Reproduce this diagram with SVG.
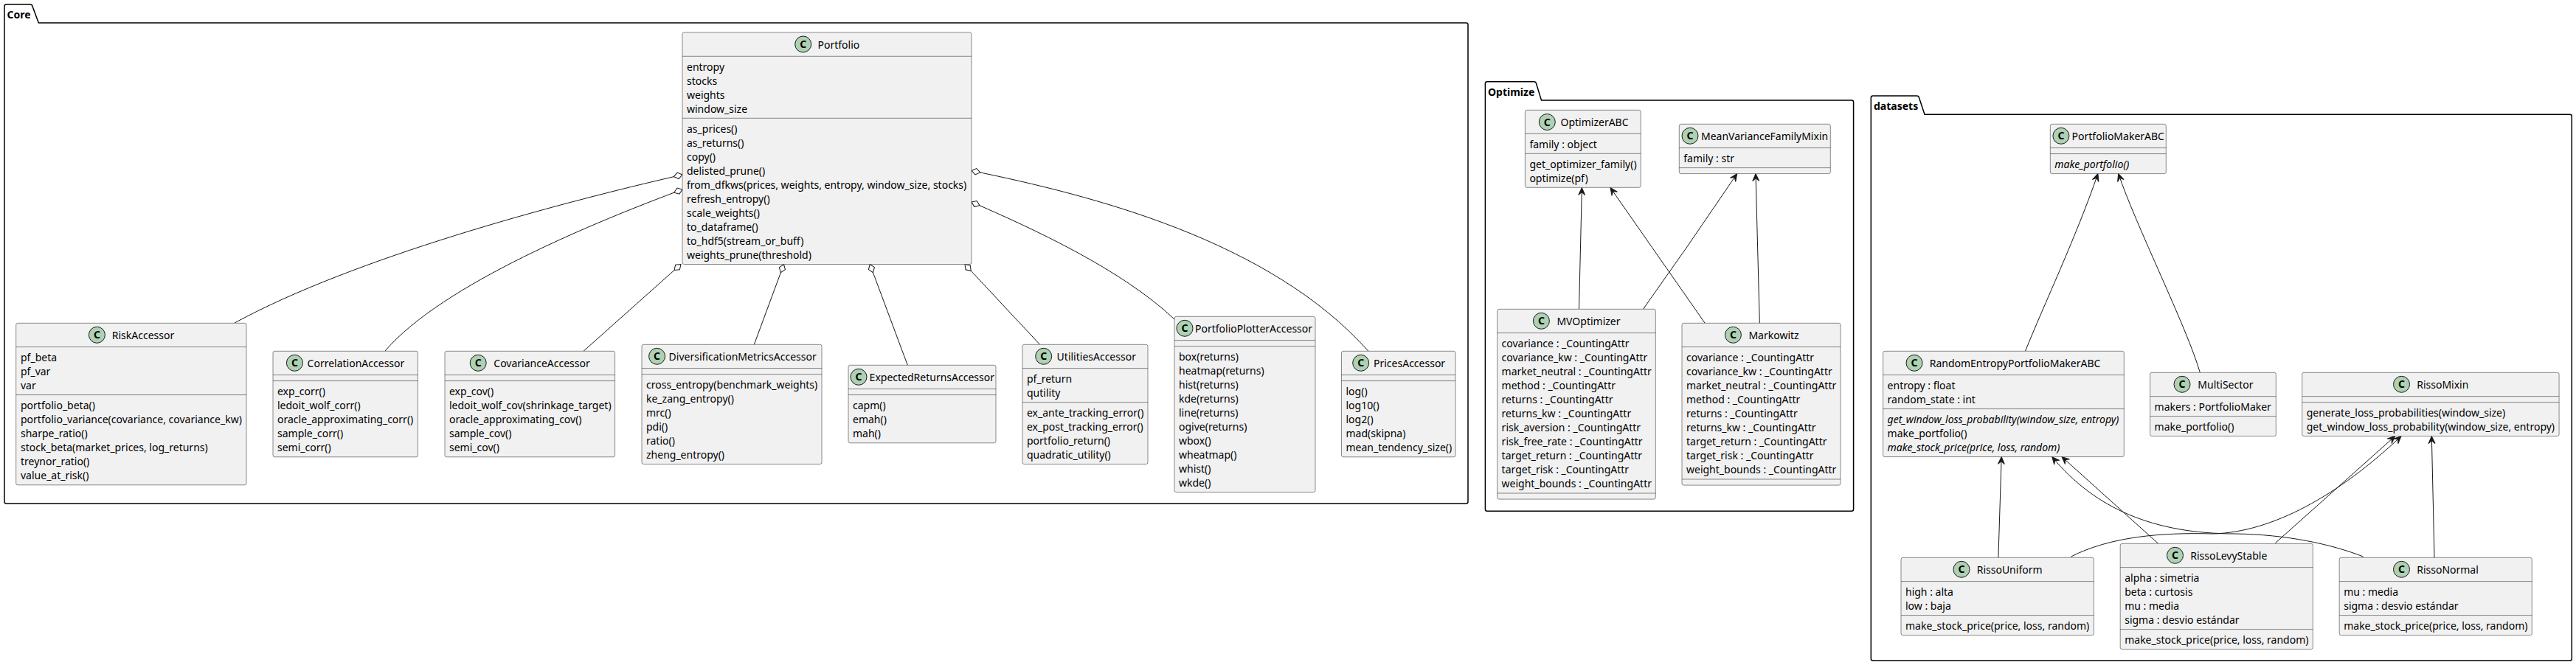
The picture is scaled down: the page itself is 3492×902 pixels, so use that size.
<svg xmlns="http://www.w3.org/2000/svg" width="3492" height="902" viewBox="0 0 3492 902">
<style>
text{font-family:"Noto Sans","DejaVu Sans",sans-serif;font-size:14px;fill:#000}
.pk{fill:none;stroke:#000;stroke-width:1.5}
.pl{font-weight:700}
.b{fill:#F1F1F1;stroke:#181818;stroke-width:.5}
.s{fill:none;stroke:#181818;stroke-width:.5}
.c{fill:#ADD1B2;stroke:#181818;stroke-width:1}
.g{text-anchor:middle;font-weight:700}
.i{font-style:italic}
.e{fill:none;stroke:#181818;stroke-width:1}
.ag{marker-start:url(#dia)}
.ex{marker-end:url(#arr)}
</style>
<defs>
<marker id="dia" markerUnits="userSpaceOnUse" markerWidth="15" markerHeight="11" refX="1" refY="5.5" orient="auto" viewBox="0 0 15 11"><path d="M1,5.5 L7,1.2 L13,5.5 L7,9.8 Z" fill="#fff" stroke="#181818" stroke-width="1"/></marker>
<marker id="arr" markerUnits="userSpaceOnUse" markerWidth="12" markerHeight="12" refX="11" refY="6" orient="auto" viewBox="0 0 12 12"><path d="M11,6 L1,1.5 L5,6 L1,10.5 Z" fill="#181818" stroke="#181818" stroke-width="1"/></marker>
</defs>
<rect width="3492" height="902" fill="#fff"/>
<g id="pkg-core"><path class="pk" d="M6,31 V8.5 Q6,6 8.5,6 H41 Q43.5,6 44,8.5 L52.3,31 H1987.5 Q1990,31 1990,33.5 V680.5 Q1990,683 1987.5,683 H8.5 Q6,683 6,680.5 Z"/><text class="pl" x="9.6" y="24.5">Core</text></g>
<g id="pkg-optimize"><path class="pk" d="M2013.4,136 V113.2 Q2013.4,110.7 2015.9,110.7 H2079.5 Q2082,110.7 2082.5,113.2 L2089.5,136 H2510 Q2512.6,136 2512.6,138.5 V690.8 Q2512.6,693.3 2510,693.3 H2015.9 Q2013.4,693.3 2013.4,690.8 Z"/><text class="pl" x="2017" y="129.5">Optimize</text></g>
<g id="pkg-datasets"><path class="pk" d="M2536.3,155.3 V132.5 Q2536.3,130 2538.8,130 H2598.5 Q2601,130 2601.5,132.5 L2609,155.3 H3483.8 Q3486.3,155.3 3486.3,157.8 V893.5 Q3486.3,896 3483.8,896 H2538.8 Q2536.3,896 2536.3,893.5 Z"/><text class="pl" x="2540" y="149">datasets</text></g>
<g id="connectors">
<path class="e ag" d="M925,237 C750,277 480,350 318,438"/>
<path class="e ag" d="M925,257 C810,300 600,385 522,476"/>
<path class="e ag" d="M923,358.5 L791,476.3"/>
<path class="e ag" d="M1062.5,358.5 L1022.3,467.3"/>
<path class="e ag" d="M1179.3,358.5 L1230.3,495.3"/>
<path class="e ag" d="M1308,358.5 L1409.6,467.3"/>
<path class="e ag" d="M1317,274 C1400,310 1520,365 1592,433"/>
<path class="e ag" d="M1317,231.5 C1480,265 1720,325 1855,476.3"/>
<path class="e ex" d="M2140.5,419.3 L2144.4,254.6"/>
<path class="e ex" d="M2311.2,438.3 L2183,254.6"/>
<path class="e ex" d="M2227.5,419.3 L2286.8,335 L2354.7,235.6"/>
<path class="e ex" d="M2385.3,438.3 L2380,235.6"/>
<path class="e ex" d="M2745.5,476.3 C2770,415 2815,320 2843.9,235.6"/>
<path class="e ex" d="M2982.3,505.3 C2965,445 2895,305 2871.7,235.6"/>
<path class="e ex" d="M2708.9,756.3 L2713.2,619.6"/>
<path class="e ex" d="M2925.7,737.3 L2795,619.6"/>
<path class="e ex" d="M3203.5,755 C3160,738 3100,725 3030,724 C2920,724 2840,690 2781.8,619.6"/>
<path class="e ex" d="M2807.6,755 C2860,728 2930,722 3000,724 C3080,722 3170,672 3255,591.6"/>
<path class="e ex" d="M3084.3,736.7 L3246.7,591.6"/>
<path class="e ex" d="M3300,756.3 L3296.3,591.6"/>
</g>
<g id="Portfolio"><rect class="b" x="925" y="44" width="392" height="314.5" rx="2.5"/><path class="s" d="M925,76.3 H1317 M925,160.3 H1317"/><circle class="c" cx="1088.7" cy="60" r="11"/><text class="g" x="1088.7" y="65">C</text><text x="1108.5" y="65.8">Portfolio</text>
<text x="931" y="95.8">entropy</text><text x="931" y="114.8">stocks</text><text x="931" y="133.8">weights</text><text x="931" y="152.8">window_size</text>
<text x="931" y="179.8">as_prices()</text><text x="931" y="198.8">as_returns()</text><text x="931" y="217.8">copy()</text><text x="931" y="236.8">delisted_prune()</text><text x="931" y="255.8">from_dfkws(prices, weights, entropy, window_size, stocks)</text><text x="931" y="274.8">refresh_entropy()</text><text x="931" y="293.8">scale_weights()</text><text x="931" y="312.8">to_dataframe()</text><text x="931" y="331.8">to_hdf5(stream_or_buff)</text><text x="931" y="350.8">weights_prune(threshold)</text></g>
<g id="RiskAccessor"><rect class="b" x="21.7" y="438.3" width="312.3" height="219.5" rx="2.5"/><path class="s" d="M21.7,470.6 H334 M21.7,535.6 H334"/><circle class="c" cx="131.4" cy="454.3" r="11"/><text class="g" x="131.4" y="459.3">C</text><text x="151.8" y="460.1">RiskAccessor</text>
<text x="28" y="490.1">pf_beta</text><text x="28" y="509.1">pf_var</text><text x="28" y="528.1">var</text>
<text x="28" y="555.1">portfolio_beta()</text><text x="28" y="574.1">portfolio_variance(covariance, covariance_kw)</text><text x="28" y="593.1">sharpe_ratio()</text><text x="28" y="612.1">stock_beta(market_prices, log_returns)</text><text x="28" y="631.1">treynor_ratio()</text><text x="28" y="650.1">value_at_risk()</text></g>
<g id="CorrelationAccessor"><rect class="b" x="370" y="476.3" width="196.5" height="143.5" rx="2.5"/><path class="s" d="M370,508.6 H566.5 M370,516.6 H566.5"/><circle class="c" cx="399.4" cy="492.3" r="11"/><text class="g" x="399.4" y="497.3">C</text><text x="416.6" y="498.1">CorrelationAccessor</text>
<text x="376" y="536.1">exp_corr()</text><text x="376" y="555.1">ledoit_wolf_corr()</text><text x="376" y="574.1">oracle_approximating_corr()</text><text x="376" y="593.1">sample_corr()</text><text x="376" y="612.1">semi_corr()</text></g>
<g id="CovarianceAccessor"><rect class="b" x="603" y="476.3" width="230.6" height="143.5" rx="2.5"/><path class="s" d="M603,508.6 H833.6 M603,516.6 H833.6"/><circle class="c" cx="648.2" cy="492.3" r="11"/><text class="g" x="648.2" y="497.3">C</text><text x="669.3" y="498.1">CovarianceAccessor</text>
<text x="609" y="536.1">exp_cov()</text><text x="609" y="555.1">ledoit_wolf_cov(shrinkage_target)</text><text x="609" y="574.1">oracle_approximating_cov()</text><text x="609" y="593.1">sample_cov()</text><text x="609" y="612.1">semi_cov()</text></g>
<g id="DiversificationMetricsAccessor"><rect class="b" x="870" y="467.3" width="244" height="162.3" rx="2.5"/><path class="s" d="M870,499.6 H1114 M870,507.6 H1114"/><circle class="c" cx="890.6" cy="483.3" r="11"/><text class="g" x="890.6" y="488.3">C</text><text x="906.6" y="489.1">DiversificationMetricsAccessor</text>
<text x="876" y="527.1">cross_entropy(benchmark_weights)</text><text x="876" y="546.1">ke_zang_entropy()</text><text x="876" y="565.1">mrc()</text><text x="876" y="584.1">pdi()</text><text x="876" y="603.1">ratio()</text><text x="876" y="622.1">zheng_entropy()</text></g>
<g id="ExpectedReturnsAccessor"><rect class="b" x="1150" y="495.3" width="200" height="105.5" rx="2.5"/><path class="s" d="M1150,527.6 H1350 M1150,535.6 H1350"/><circle class="c" cx="1164" cy="511.3" r="11"/><text class="g" x="1164" y="516.3">C</text><text x="1178.6" y="517.1">ExpectedReturnsAccessor</text>
<text x="1156" y="555.1">capm()</text><text x="1156" y="574.1">emah()</text><text x="1156" y="593.1">mah()</text></g>
<g id="UtilitiesAccessor"><rect class="b" x="1386" y="467.3" width="170" height="162.3" rx="2.5"/><path class="s" d="M1386,499.6 H1556 M1386,545.6 H1556"/><circle class="c" cx="1414.7" cy="483.3" r="11"/><text class="g" x="1414.7" y="488.3">C</text><text x="1432.6" y="489.1">UtilitiesAccessor</text>
<text x="1392" y="519.1">pf_return</text><text x="1392" y="538.1">qutility</text>
<text x="1392" y="565.1">ex_ante_tracking_error()</text><text x="1392" y="584.1">ex_post_tracking_error()</text><text x="1392" y="603.1">portfolio_return()</text><text x="1392" y="622.1">quadratic_utility()</text></g>
<g id="PortfolioPlotterAccessor"><rect class="b" x="1592" y="429.3" width="191" height="238.3" rx="2.5"/><path class="s" d="M1592,461.6 H1783 M1592,469.6 H1783"/><circle class="c" cx="1606" cy="445.3" r="11"/><text class="g" x="1606" y="450.3">C</text><text x="1620" y="451.1">PortfolioPlotterAccessor</text>
<text x="1598" y="489.1">box(returns)</text><text x="1598" y="508.1">heatmap(returns)</text><text x="1598" y="527.1">hist(returns)</text><text x="1598" y="546.1">kde(returns)</text><text x="1598" y="565.1">line(returns)</text><text x="1598" y="584.1">ogive(returns)</text><text x="1598" y="603.1">wbox()</text><text x="1598" y="622.1">wheatmap()</text><text x="1598" y="641.1">whist()</text><text x="1598" y="660.1">wkde()</text></g>
<g id="PricesAccessor"><rect class="b" x="1818.5" y="476.3" width="154.5" height="143.5" rx="2.5"/><path class="s" d="M1818.5,508.6 H1973 M1818.5,516.6 H1973"/><circle class="c" cx="1844.7" cy="492.3" r="11"/><text class="g" x="1844.7" y="497.3">C</text><text x="1862" y="498.1">PricesAccessor</text>
<text x="1824.5" y="536.1">log()</text><text x="1824.5" y="555.1">log10()</text><text x="1824.5" y="574.1">log2()</text><text x="1824.5" y="593.1">mad(skipna)</text><text x="1824.5" y="612.1">mean_tendency_size()</text></g>
<g id="OptimizerABC"><rect class="b" x="2067.4" y="149.3" width="156.8" height="105" rx="2.5"/><path class="s" d="M2067.4,181.3 H2224.2 M2067.4,208.3 H2224.2"/><circle class="c" cx="2097.3" cy="165.5" r="11"/><text class="g" x="2097.3" y="170.5">C</text><text x="2115.5" y="171">OptimizerABC</text>
<text x="2073.4" y="200.6">family : object</text>
<text x="2073.4" y="227.8">get_optimizer_family()</text><text x="2073.4" y="246.8">optimize(pf)</text></g>
<g id="MeanVarianceFamilyMixin"><rect class="b" x="2276.3" y="168.3" width="205" height="67.3" rx="2.5"/><path class="s" d="M2276.3,200.6 H2481.3 M2276.3,227.6 H2481.3"/><circle class="c" cx="2291" cy="184.3" r="11"/><text class="g" x="2291" y="189.3">C</text><text x="2306" y="190.1">MeanVarianceFamilyMixin</text>
<text x="2282.3" y="220.1">family : str</text></g>
<g id="MVOptimizer"><rect class="b" x="2029.6" y="419.3" width="214.7" height="257.8" rx="2.5"/><path class="s" d="M2029.6,451.6 H2244.3 M2029.6,669 H2244.3"/><circle class="c" cx="2089.4" cy="435.3" r="11"/><text class="g" x="2089.4" y="440.3">C</text><text x="2110.4" y="441.1">MVOptimizer</text>
<text x="2035.6" y="471.1">covariance : _CountingAttr</text><text x="2035.6" y="490.1">covariance_kw : _CountingAttr</text><text x="2035.6" y="509.1">market_neutral : _CountingAttr</text><text x="2035.6" y="528.1">method : _CountingAttr</text><text x="2035.6" y="547.1">returns : _CountingAttr</text><text x="2035.6" y="566.1">returns_kw : _CountingAttr</text><text x="2035.6" y="585.1">risk_aversion : _CountingAttr</text><text x="2035.6" y="604.1">risk_free_rate : _CountingAttr</text><text x="2035.6" y="623.1">target_return : _CountingAttr</text><text x="2035.6" y="642.1">target_risk : _CountingAttr</text><text x="2035.6" y="661.1">weight_bounds : _CountingAttr</text></g>
<g id="Markowitz"><rect class="b" x="2280" y="438.3" width="215" height="219.8" rx="2.5"/><path class="s" d="M2280,470.6 H2495 M2280,650 H2495"/><circle class="c" cx="2349.4" cy="454.3" r="11"/><text class="g" x="2349.4" y="459.3">C</text><text x="2370.4" y="460.1">Markowitz</text>
<text x="2286" y="490.1">covariance : _CountingAttr</text><text x="2286" y="509.1">covariance_kw : _CountingAttr</text><text x="2286" y="528.1">market_neutral : _CountingAttr</text><text x="2286" y="547.1">method : _CountingAttr</text><text x="2286" y="566.1">returns : _CountingAttr</text><text x="2286" y="585.1">returns_kw : _CountingAttr</text><text x="2286" y="604.1">target_return : _CountingAttr</text><text x="2286" y="623.1">target_risk : _CountingAttr</text><text x="2286" y="642.1">weight_bounds : _CountingAttr</text></g>
<g id="PortfolioMakerABC"><rect class="b" x="2779.3" y="168.3" width="157" height="67.3" rx="2.5"/><path class="s" d="M2779.3,200.6 H2936.3 M2779.3,208.6 H2936.3"/><circle class="c" cx="2793.9" cy="184.3" r="11"/><text class="g" x="2793.9" y="189.3">C</text><text x="2808.6" y="190.1">PortfolioMakerABC</text>
<text class="i" x="2785.3" y="228.1">make_portfolio()</text></g>
<g id="RandomEntropyPortfolioMakerABC"><rect class="b" x="2552.6" y="476.3" width="326.7" height="143.3" rx="2.5"/><path class="s" d="M2552.6,508.6 H2879.3 M2552.6,554.6 H2879.3"/><circle class="c" cx="2595" cy="492.3" r="11"/><text class="g" x="2595" y="497.3">C</text><text x="2615.7" y="498.1">RandomEntropyPortfolioMakerABC</text>
<text x="2558.6" y="528.1">entropy : float</text><text x="2558.6" y="547.1">random_state : int</text>
<text class="i" x="2558.6" y="574.1">get_window_loss_probability(window_size, entropy)</text><text x="2558.6" y="593.1">make_portfolio()</text><text class="i" x="2558.6" y="612.1">make_stock_price(price, loss, random)</text></g>
<g id="MultiSector"><rect class="b" x="2914.6" y="505.3" width="170.7" height="86.3" rx="2.5"/><path class="s" d="M2914.6,537.6 H3085.3 M2914.6,564.6 H3085.3"/><circle class="c" cx="2958" cy="521.3" r="11"/><text class="g" x="2958" y="526.3">C</text><text x="2979.3" y="527.1">MultiSector</text>
<text x="2920.6" y="557.1">makers : PortfolioMaker</text><text x="2920.6" y="584.1">make_portfolio()</text></g>
<g id="RissoMixin"><rect class="b" x="3120.7" y="505.3" width="348.4" height="86.3" rx="2.5"/><path class="s" d="M3120.7,537.6 H3469.1 M3120.7,545.6 H3469.1"/><circle class="c" cx="3255.5" cy="521.3" r="11"/><text class="g" x="3255.5" y="526.3">C</text><text x="3276.2" y="527.1">RissoMixin</text>
<text x="3126.7" y="565.1">generate_loss_probabilities(window_size)</text><text x="3126.7" y="584.1">get_window_loss_probability(window_size, entropy)</text></g>
<g id="RissoUniform"><rect class="b" x="2577" y="756.3" width="261.4" height="105.3" rx="2.5"/><path class="s" d="M2577,788.6 H2838.4 M2577,834.6 H2838.4"/><circle class="c" cx="2659" cy="772.3" r="11"/><text class="g" x="2659" y="777.3">C</text><text x="2679.7" y="778.1">RissoUniform</text>
<text x="2583" y="808.1">high : alta</text><text x="2583" y="827.1">low : baja</text><text x="2583" y="854.1">make_stock_price(price, loss, random)</text></g>
<g id="RissoLevyStable"><rect class="b" x="2874.2" y="737.3" width="261.1" height="143.3" rx="2.5"/><path class="s" d="M2874.2,769.6 H3135.3 M2874.2,853.6 H3135.3"/><circle class="c" cx="2948.5" cy="753.3" r="11"/><text class="g" x="2948.5" y="758.3">C</text><text x="2969.2" y="759.1">RissoLevyStable</text>
<text x="2880.2" y="789.1">alpha : simetria</text><text x="2880.2" y="808.1">beta : curtosis</text><text x="2880.2" y="827.1">mu : media</text><text x="2880.2" y="846.1">sigma : desvio estándar</text><text x="2880.2" y="873.1">make_stock_price(price, loss, random)</text></g>
<g id="RissoNormal"><rect class="b" x="3171.2" y="756.3" width="261.1" height="105.3" rx="2.5"/><path class="s" d="M3171.2,788.6 H3432.3 M3171.2,834.6 H3432.3"/><circle class="c" cx="3255.5" cy="772.3" r="11"/><text class="g" x="3255.5" y="777.3">C</text><text x="3276.2" y="778.1">RissoNormal</text>
<text x="3177.2" y="808.1">mu : media</text><text x="3177.2" y="827.1">sigma : desvio estándar</text><text x="3177.2" y="854.1">make_stock_price(price, loss, random)</text></g>
</svg>
